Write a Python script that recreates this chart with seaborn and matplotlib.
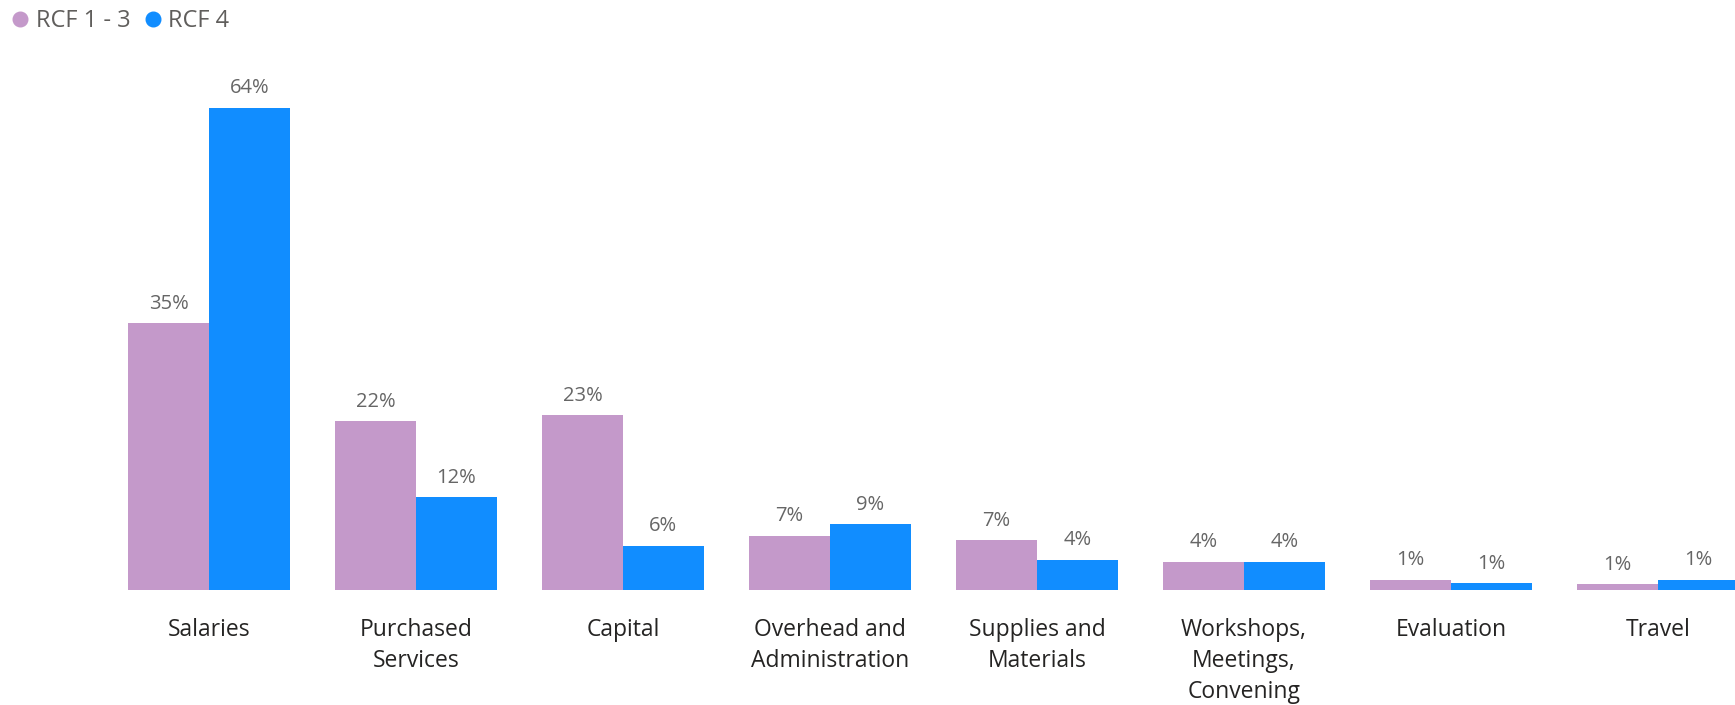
import pandas as pd
import matplotlib.pyplot as plt
import seaborn as sns
from matplotlib.lines import Line2D

# Budget categories and share of spend per funding round
categories = ["Salaries", "Purchased\nServices", "Capital", "Overhead and\nAdministration",
              "Supplies and\nMaterials", "Workshops,\nMeetings,\nConvening", "Evaluation", "Travel"]
rcf_1_3 = [35.4, 22.4, 23.2, 7.2, 6.6, 3.7, 1.3, 0.75]
rcf_4 = [64.0, 12.3, 5.9, 8.7, 4.0, 3.7, 0.9, 1.3]
series_names = ["RCF 1 - 3", "RCF 4"]

colors = {"RCF 1 - 3": "#C499CA", "RCF 4": "#118DFF"}

df = pd.DataFrame({
    "Category": categories * 2,
    "Share": rcf_1_3 + rcf_4,
    "Round": [series_names[0]] * len(categories) + [series_names[1]] * len(categories),
})

sns.set_style("white")
plt.rcParams["font.family"] = ["Open Sans", "DejaVu Sans"]

fig = plt.figure(figsize=(17.35, 7.05), dpi=100)
ax = fig.add_axes([0, 115 / 705, 1, 590 / 705])

sns.barplot(data=df, x="Category", y="Share", hue="Round", palette=colors,
            width=0.78, saturation=1, linewidth=0, legend=False, ax=ax)

# Percent labels above each bar
for container in ax.containers:
    ax.bar_label(container, labels=[f"{b.get_height():.0f}%" for b in container],
                 padding=7, color="#666666", fontsize=14.5)

ax.set_xlim(-1.01, 7.372)
ax.set_ylim(0, 78.35)
ax.set_xlabel("")
ax.set_ylabel("")
ax.set_yticks([])
ax.tick_params(axis="x", length=0, pad=20, labelsize=16.5, labelcolor="#252423")
for lbl in ax.get_xticklabels():
    lbl.set_linespacing(1.4)
sns.despine(ax=ax, left=True, bottom=True, top=True, right=True)

handles = [Line2D([], [], marker="o", linestyle="", markersize=10.5,
                  markerfacecolor=colors[n], markeredgecolor=colors[n]) for n in series_names]
fig.legend(handles, series_names, loc="upper left", bbox_to_anchor=(-0.006, 1.01),
           ncol=2, frameon=False, handletextpad=0.05, columnspacing=0.35,
           handlelength=1.2, fontsize=17, labelcolor="#605E5C", borderaxespad=0.3)

fig.savefig("out.png", dpi=100)
